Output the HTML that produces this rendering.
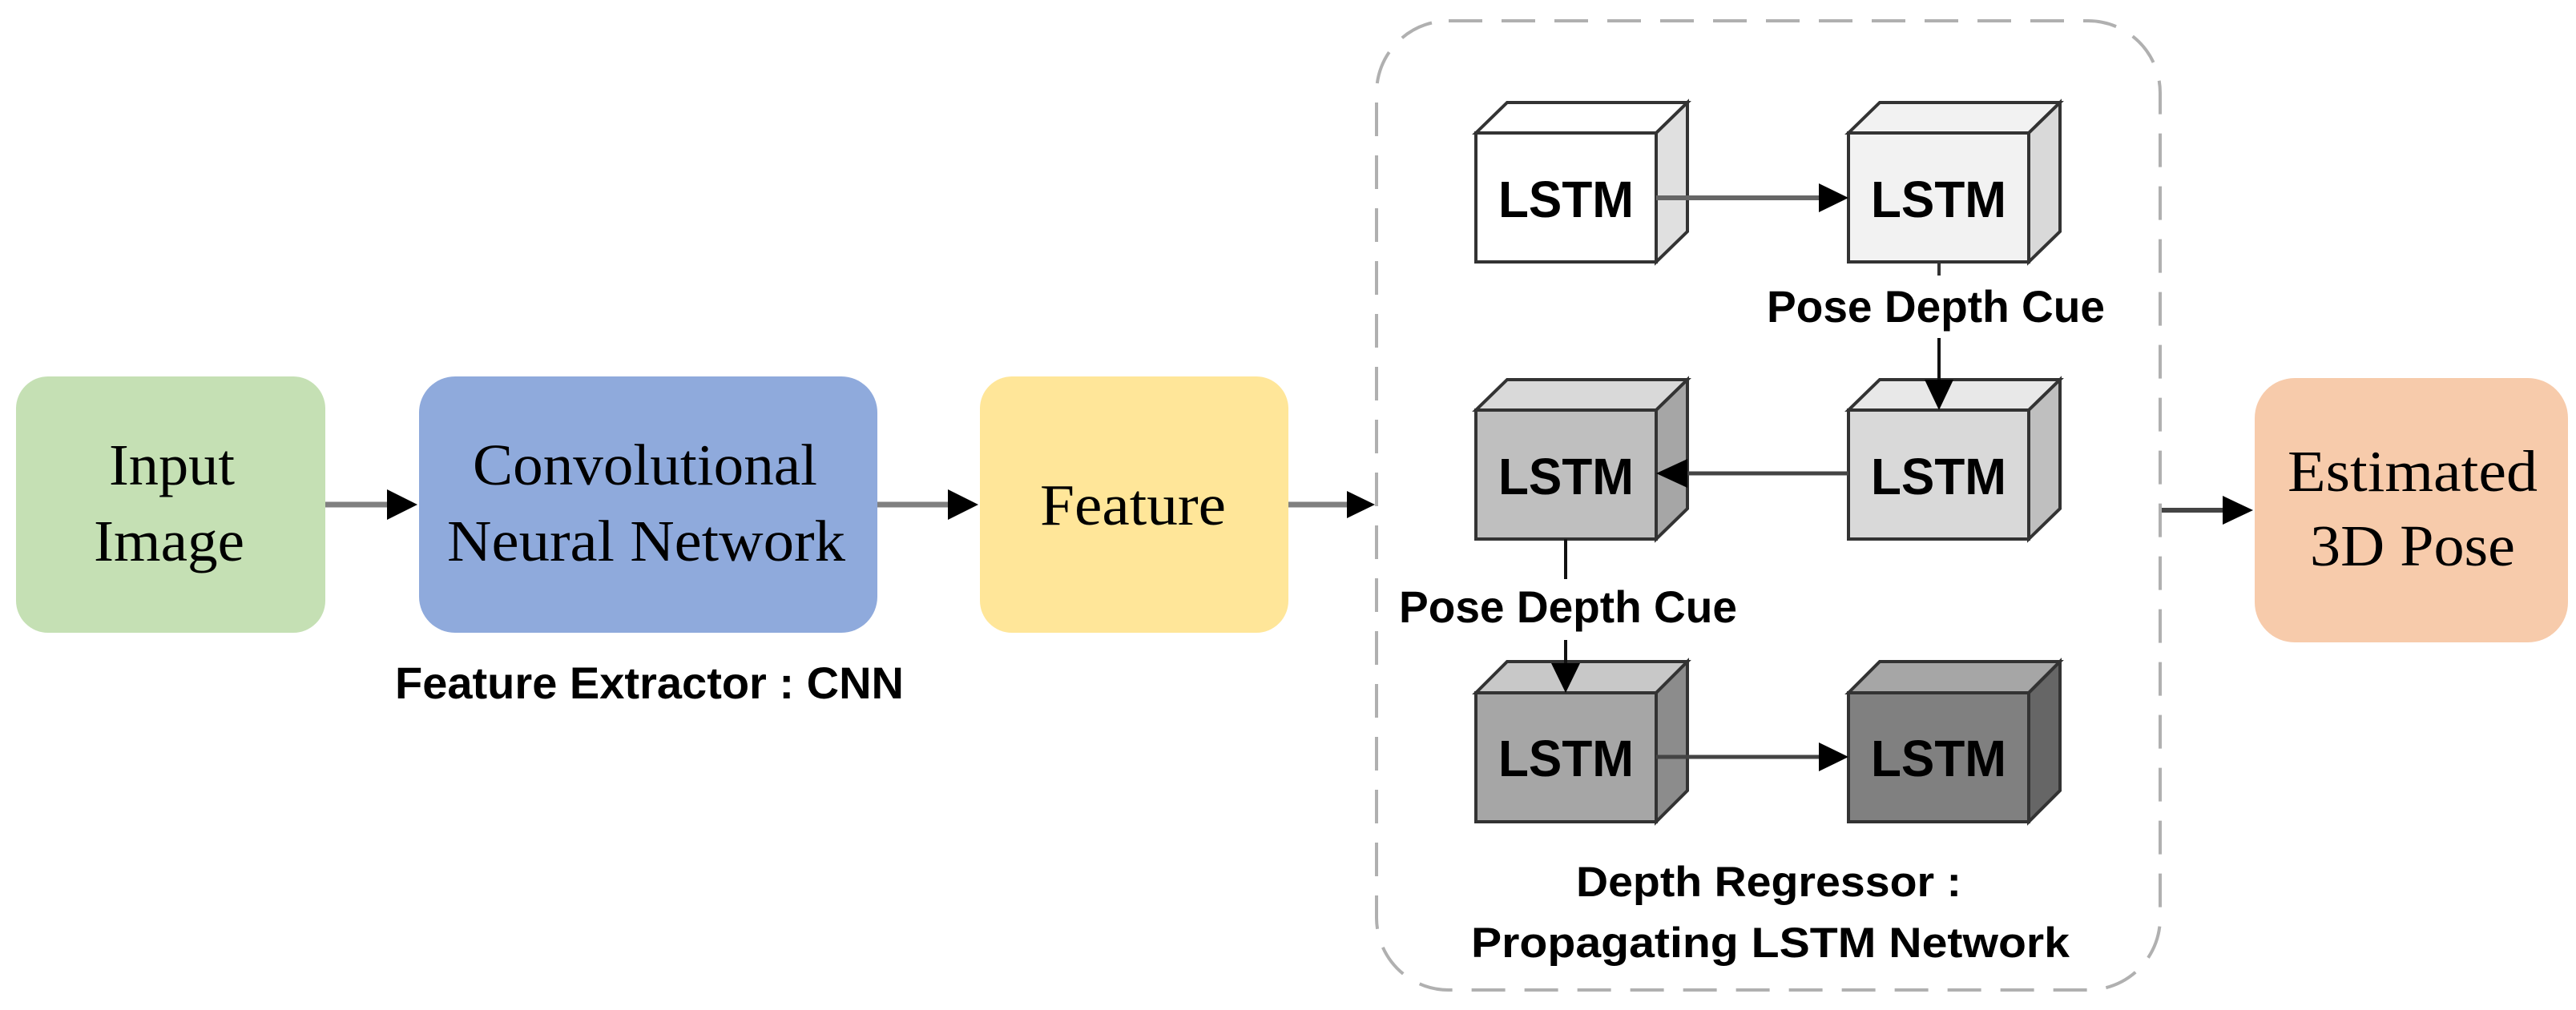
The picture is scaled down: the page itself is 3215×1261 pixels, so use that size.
<!DOCTYPE html>
<html><head><meta charset="utf-8"><style>
html,body{margin:0;padding:0;background:#fff;}
svg{display:block;}
.t{font-family:"Liberation Serif",serif;font-size:73px;fill:#000;}
.b{font-family:"Liberation Sans",sans-serif;font-weight:bold;fill:#000;}
</style></head><body>
<svg width="3215" height="1261" viewBox="0 0 3215 1261" xmlns="http://www.w3.org/2000/svg">
<!-- left boxes -->
<rect x="20" y="470" width="386" height="320" rx="40" fill="#c5e0b4"/>
<rect x="523" y="470" width="572" height="320" rx="45" fill="#8faadc"/>
<rect x="1223" y="470" width="385" height="320" rx="40" fill="#ffe699"/>
<rect x="2814" y="472" width="391" height="330" rx="50" fill="#f7cbab"/>
<text class="t" x="136" y="605" textLength="157" lengthAdjust="spacingAndGlyphs">Input</text>
<text class="t" x="117" y="700" textLength="188" lengthAdjust="spacingAndGlyphs">Image</text>
<text class="t" x="590" y="605" textLength="430" lengthAdjust="spacingAndGlyphs">Convolutional</text>
<text class="t" x="558" y="700" textLength="497" lengthAdjust="spacingAndGlyphs">Neural Network</text>
<text class="t" x="1298" y="655" textLength="232" lengthAdjust="spacingAndGlyphs">Feature</text>
<text class="t" x="2855" y="613" textLength="312" lengthAdjust="spacingAndGlyphs">Estimated</text>
<text class="t" x="2883" y="706" textLength="256" lengthAdjust="spacingAndGlyphs">3D Pose</text>
<text class="b" x="493" y="872" font-size="56" textLength="635" lengthAdjust="spacingAndGlyphs">Feature Extractor : CNN</text>
<!-- main arrows -->
<g fill="#000">
<line x1="406" y1="630" x2="486" y2="630" stroke="#808080" stroke-width="7"/>
<polygon points="483,611 521,630 483,649"/>
<line x1="1095" y1="630" x2="1186" y2="630" stroke="#808080" stroke-width="7"/>
<polygon points="1183,611 1221,630 1183,649"/>
<line x1="1608" y1="630" x2="1684" y2="630" stroke="#808080" stroke-width="7"/>
<polygon points="1681,613 1716,630 1681,647"/>
<line x1="2695" y1="637" x2="2778" y2="637" stroke="#444" stroke-width="6"/>
<polygon points="2774,619 2812,637 2774,655"/>
</g>
<!-- dashed container -->
<rect x="1718" y="26" width="978" height="1210" rx="90" fill="none" stroke="#b0b0b0" stroke-width="4" stroke-dasharray="42,24"/>
<!-- cubes -->
<g stroke="#333" stroke-width="4" stroke-linejoin="miter">
<polygon points="1842,166 1881,128 2106,128 2067,166" fill="#ffffff"/>
<polygon points="2067,166 2106,128 2106,289 2067,327" fill="#e0e0e0"/>
<rect x="1842" y="166" width="225" height="161" fill="#ffffff"/>
<polygon points="2307,166 2346,128 2571,128 2532,166" fill="#f2f2f2"/>
<polygon points="2532,166 2571,128 2571,289 2532,327" fill="#d9d9d9"/>
<rect x="2307" y="166" width="225" height="161" fill="#f2f2f2"/>
<polygon points="1842,512 1881,474 2106,474 2067,512" fill="#d9d9d9"/>
<polygon points="2067,512 2106,474 2106,635 2067,673" fill="#a6a6a6"/>
<rect x="1842" y="512" width="225" height="161" fill="#bfbfbf"/>
<polygon points="2307,512 2346,474 2571,474 2532,512" fill="#e8e8e8"/>
<polygon points="2532,512 2571,474 2571,635 2532,673" fill="#bfbfbf"/>
<rect x="2307" y="512" width="225" height="161" fill="#d9d9d9"/>
<polygon points="1842,865 1881,826 2106,826 2067,865" fill="#c8c8c8"/>
<polygon points="2067,865 2106,826 2106,987 2067,1026" fill="#8c8c8c"/>
<rect x="1842" y="865" width="225" height="161" fill="#a6a6a6"/>
<polygon points="2307,865 2346,826 2571,826 2532,865" fill="#a6a6a6"/>
<polygon points="2532,865 2571,826 2571,987 2532,1026" fill="#666666"/>
<rect x="2307" y="865" width="225" height="161" fill="#808080"/>
</g>
<g class="b" font-size="64">
<text x="1870" y="271" textLength="169" lengthAdjust="spacingAndGlyphs">LSTM</text>
<text x="2335" y="271" textLength="169" lengthAdjust="spacingAndGlyphs">LSTM</text>
<text x="1870" y="617" textLength="169" lengthAdjust="spacingAndGlyphs">LSTM</text>
<text x="2335" y="617" textLength="169" lengthAdjust="spacingAndGlyphs">LSTM</text>
<text x="1870" y="969" textLength="169" lengthAdjust="spacingAndGlyphs">LSTM</text>
<text x="2335" y="969" textLength="169" lengthAdjust="spacingAndGlyphs">LSTM</text>
</g>
<!-- inner arrows -->
<g fill="#000">
<line x1="2067" y1="247" x2="2275" y2="247" stroke="#666" stroke-width="6"/>
<polygon points="2270,229 2307,247 2270,265"/>
<line x1="2307" y1="591" x2="2100" y2="591" stroke="#444" stroke-width="5"/>
<polygon points="2106,573 2067,591 2106,609"/>
<line x1="2067" y1="945" x2="2275" y2="945" stroke="#444" stroke-width="5"/>
<polygon points="2270,927 2307,945 2270,963"/>
<line x1="2420" y1="327" x2="2420" y2="344" stroke="#333" stroke-width="4"/>
<line x1="2420" y1="422" x2="2420" y2="478" stroke="#111" stroke-width="4"/>
<polygon points="2402,474 2438,474 2420,512"/>
<line x1="1954" y1="673" x2="1954" y2="723" stroke="#111" stroke-width="4"/>
<line x1="1954" y1="799" x2="1954" y2="830" stroke="#111" stroke-width="4"/>
<polygon points="1936,828 1972,828 1954,865"/>
</g>
<text class="b" x="2205" y="402" font-size="56" textLength="422" lengthAdjust="spacingAndGlyphs">Pose Depth Cue</text>
<text class="b" x="1746" y="777" font-size="56" textLength="422" lengthAdjust="spacingAndGlyphs">Pose Depth Cue</text>
<text class="b" x="1967" y="1119" font-size="53" textLength="481" lengthAdjust="spacingAndGlyphs">Depth Regressor :</text>
<text class="b" x="1836" y="1195" font-size="53" textLength="747" lengthAdjust="spacingAndGlyphs">Propagating LSTM Network</text>
</svg>
</body></html>
